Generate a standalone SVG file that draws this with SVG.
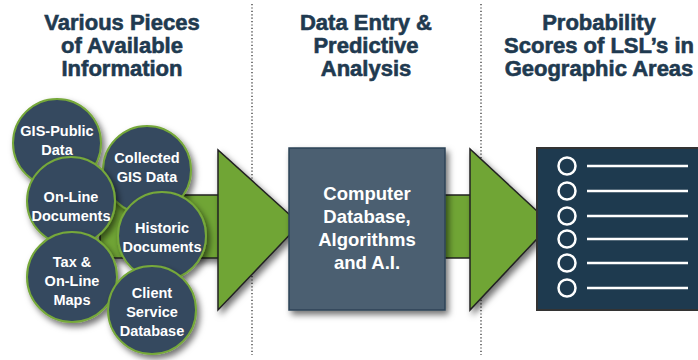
<svg xmlns="http://www.w3.org/2000/svg" width="698" height="360" viewBox="0 0 698 360">
<defs>
<filter id="sh" x="-30%" y="-30%" width="160%" height="160%">
<feDropShadow dx="3" dy="4" stdDeviation="3" flood-color="#000" flood-opacity="0.55"/>
</filter>
<style>
.head{font-family:"Liberation Sans",Arial,sans-serif;font-weight:bold;font-size:22px;fill:#1f3a50;stroke:#1f3a50;stroke-width:0.6;text-anchor:middle}
.ct{font-family:"Liberation Sans",Arial,sans-serif;font-weight:bold;font-size:14.5px;fill:#fff;text-anchor:middle}
.bt{font-family:"Liberation Sans",Arial,sans-serif;font-weight:bold;font-size:18.5px;fill:#fff;text-anchor:middle}
.circ{fill:#344a5e;stroke:#76a83a;stroke-width:2;filter:url(#sh)}
.green{fill:#70a535;stroke:#222;stroke-width:1.5}
.dot{stroke:#333;stroke-width:1.3;stroke-dasharray:1.2 2.2;fill:none}
.wl{stroke:#fff;stroke-width:2.5}
.wc{fill:none;stroke:#fff;stroke-width:2.5}
</style>
</defs>
<rect width="698" height="360" fill="#fff"/>

<g id="dividers">
<line class="dot" x1="252" y1="4" x2="252" y2="355"/>
<line class="dot" x1="481" y1="4" x2="481" y2="355"/>
</g>

<g id="headings">
<text class="head" x="122" y="30">Various Pieces</text>
<text class="head" x="122" y="53">of Available</text>
<text class="head" x="122" y="76">Information</text>
<text class="head" x="366" y="30">Data Entry &amp;</text>
<text class="head" x="366" y="53">Predictive</text>
<text class="head" x="366" y="76">Analysis</text>
<text class="head" x="599" y="30">Probability</text>
<text class="head" x="599" y="53">Scores of LSL’s in</text>
<text class="head" x="599" y="76">Geographic Areas</text>
</g>

<g id="connectors">
<rect class="green" x="100" y="195" width="120" height="63" filter="url(#sh)"/>
<polygon class="green" points="218,150 218,310 300,224" filter="url(#sh)"/>
<rect class="green" x="440" y="195" width="32" height="63"/>
<polygon class="green" points="470,149 470,310 551,224" filter="url(#sh)"/>
</g>

<g id="gis-public">
<circle class="circ" cx="57" cy="143" r="44"/>
<text class="ct" x="57" y="136">GIS-Public</text>
<text class="ct" x="57" y="155">Data</text>
</g>
<g id="collected">
<circle class="circ" cx="147" cy="170" r="44"/>
<text class="ct" x="147" y="163">Collected</text>
<text class="ct" x="147" y="182">GIS Data</text>
</g>
<g id="online-docs">
<circle class="circ" cx="71" cy="201" r="44"/>
<text class="ct" x="71" y="202">On-Line</text>
<text class="ct" x="71" y="221">Documents</text>
</g>
<g id="historic">
<circle class="circ" cx="162" cy="236" r="44"/>
<text class="ct" x="162" y="233">Historic</text>
<text class="ct" x="162" y="252">Documents</text>
</g>
<g id="tax">
<circle class="circ" cx="72" cy="277" r="45"/>
<text class="ct" x="72" y="267">Tax &amp;</text>
<text class="ct" x="72" y="286">On-Line</text>
<text class="ct" x="72" y="305">Maps</text>
</g>
<g id="client">
<circle class="circ" cx="152" cy="310" r="44"/>
<text class="ct" x="152" y="298">Client</text>
<text class="ct" x="152" y="317">Service</text>
<text class="ct" x="152" y="336">Database</text>
</g>

<g id="computer">
<rect x="289" y="148" width="156" height="162" fill="#4b5e71" stroke="#2d4457" stroke-width="1.5" filter="url(#sh)"/>
<text class="bt" x="367" y="200">Computer</text>
<text class="bt" x="367" y="223">Database,</text>
<text class="bt" x="367" y="246">Algorithms</text>
<text class="bt" x="367" y="269">and A.I.</text>
</g>

<g id="scores">
<rect x="537" y="148" width="170" height="162" fill="#1e3a4f" stroke="#333" stroke-width="2"/>
<circle class="wc" cx="567" cy="166" r="8.5"/>
<circle class="wc" cx="567" cy="191" r="8.5"/>
<circle class="wc" cx="567" cy="216" r="8.5"/>
<circle class="wc" cx="567" cy="239" r="8.5"/>
<circle class="wc" cx="567" cy="263" r="8.5"/>
<circle class="wc" cx="567" cy="288" r="8.5"/>
<line class="wl" x1="587" y1="166" x2="688" y2="166"/>
<line class="wl" x1="587" y1="191" x2="688" y2="191"/>
<line class="wl" x1="587" y1="216" x2="688" y2="216"/>
<line class="wl" x1="587" y1="239" x2="688" y2="239"/>
<line class="wl" x1="587" y1="263" x2="688" y2="263"/>
<line class="wl" x1="587" y1="288" x2="688" y2="288"/>
</g>
</svg>
